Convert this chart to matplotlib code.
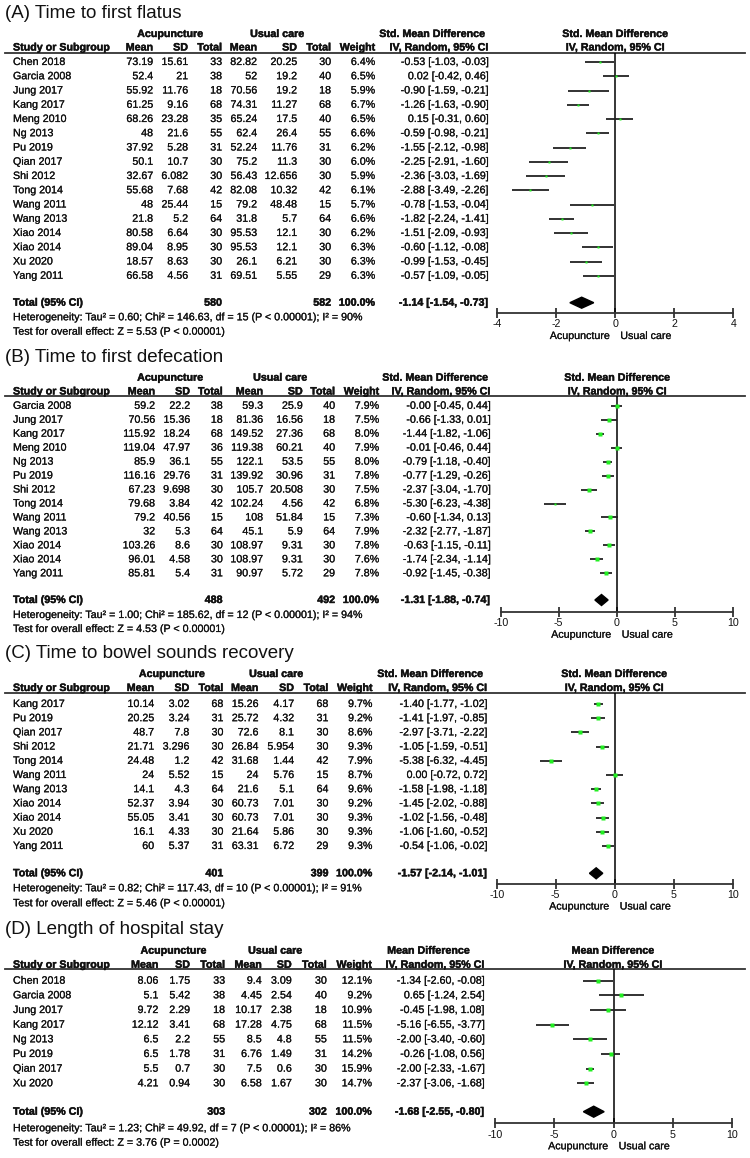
import numpy as np
import matplotlib.pyplot as plt
import matplotlib.patheffects as pe

plt.rcParams['font.family'] = ['Liberation Sans', 'DejaVu Sans']

# ---- (A) Time to first flatus ----
a_study = ['Chen 2018', 'Garcia 2008', 'Jung 2017', 'Kang 2017', 'Meng 2010', 'Ng 2013',
           'Pu 2019', 'Qian 2017', 'Shi 2012', 'Tong 2014', 'Wang 2011', 'Wang 2013',
           'Xiao 2014', 'Xiao 2014', 'Xu 2020', 'Yang 2011']
a_acu_mean = [73.19, 52.4, 55.92, 61.25, 68.26, 48, 37.92, 50.1, 32.67, 55.68, 48, 21.8, 80.58, 89.04, 18.57, 66.58]
a_acu_sd = [15.61, 21, 11.76, 9.16, 23.28, 21.6, 5.28, 10.7, 6.082, 7.68, 25.44, 5.2, 6.64, 8.95, 8.63, 4.56]
a_acu_n = [33, 38, 18, 68, 35, 55, 31, 30, 30, 42, 15, 64, 30, 30, 30, 31]
a_uc_mean = [82.82, 52, 70.56, 74.31, 65.24, 62.4, 52.24, 75.2, 56.43, 82.08, 79.2, 31.8, 95.53, 95.53, 26.1, 69.51]
a_uc_sd = [20.25, 19.2, 19.2, 11.27, 17.5, 26.4, 11.76, 11.3, 12.656, 10.32, 48.48, 5.7, 12.1, 12.1, 6.21, 5.55]
a_uc_n = [30, 40, 18, 68, 40, 55, 31, 30, 30, 42, 15, 64, 30, 30, 30, 29]
a_weight = [6.4, 6.5, 5.9, 6.7, 6.5, 6.6, 6.2, 6.0, 5.9, 6.1, 5.7, 6.6, 6.2, 6.3, 6.3, 6.3]
a_est = [-0.53, 0.02, -0.90, -1.26, 0.15, -0.59, -1.55, -2.25, -2.36, -2.88, -0.78, -1.82, -1.51, -0.60, -0.99, -0.57]
a_lo = [-1.03, -0.42, -1.59, -1.63, -0.31, -0.98, -2.12, -2.91, -3.03, -3.49, -1.53, -2.24, -2.09, -1.12, -1.53, -1.09]
a_hi = [-0.03, 0.46, -0.21, -0.90, 0.60, -0.21, -0.98, -1.60, -1.69, -2.26, -0.04, -1.41, -0.93, -0.08, -0.45, -0.05]
a_total = (580, 582, -1.14, -1.54, -0.73)
a_het = 'Heterogeneity: Tau² = 0.60; Chi² = 146.63, df = 15 (P < 0.00001); I² = 90%'
a_test = 'Test for overall effect: Z = 5.53 (P < 0.00001)'

# ---- (B) Time to first defecation ----
b_study = ['Garcia 2008', 'Jung 2017', 'Kang 2017', 'Meng 2010', 'Ng 2013', 'Pu 2019', 'Shi 2012',
           'Tong 2014', 'Wang 2011', 'Wang 2013', 'Xiao 2014', 'Xiao 2014', 'Yang 2011']
b_acu_mean = [59.2, 70.56, 115.92, 119.04, 85.9, 116.16, 67.23, 79.68, 79.2, 32, 103.26, 96.01, 85.81]
b_acu_sd = [22.2, 15.36, 18.24, 47.97, 36.1, 29.76, 9.698, 3.84, 40.56, 5.3, 8.6, 4.58, 5.4]
b_acu_n = [38, 18, 68, 36, 55, 31, 30, 42, 15, 64, 30, 30, 31]
b_uc_mean = [59.3, 81.36, 149.52, 119.38, 122.1, 139.92, 105.7, 102.24, 108, 45.1, 108.97, 108.97, 90.97]
b_uc_sd = [25.9, 16.56, 27.36, 60.21, 53.5, 30.96, 20.508, 4.56, 51.84, 5.9, 9.31, 9.31, 5.72]
b_uc_n = [40, 18, 68, 40, 55, 31, 30, 42, 15, 64, 30, 30, 29]
b_weight = [7.9, 7.5, 8.0, 7.9, 8.0, 7.8, 7.5, 6.8, 7.3, 7.9, 7.8, 7.6, 7.8]
b_est = [-0.0, -0.66, -1.44, -0.01, -0.79, -0.77, -2.37, -5.30, -0.60, -2.32, -0.63, -1.74, -0.92]
b_lo = [-0.45, -1.33, -1.82, -0.46, -1.18, -1.29, -3.04, -6.23, -1.34, -2.77, -1.15, -2.34, -1.45]
b_hi = [0.44, 0.01, -1.06, 0.44, -0.40, -0.26, -1.70, -4.38, 0.13, -1.87, -0.11, -1.14, -0.38]
b_total = (488, 492, -1.31, -1.88, -0.74)
b_het = 'Heterogeneity: Tau² = 1.00; Chi² = 185.62, df = 12 (P < 0.00001); I² = 94%'
b_test = 'Test for overall effect: Z = 4.53 (P < 0.00001)'

# ---- (C) Time to bowel sounds recovery ----
c_study = ['Kang 2017', 'Pu 2019', 'Qian 2017', 'Shi 2012', 'Tong 2014', 'Wang 2011', 'Wang 2013',
           'Xiao 2014', 'Xiao 2014', 'Xu 2020', 'Yang 2011']
c_acu_mean = [10.14, 20.25, 48.7, 21.71, 24.48, 24, 14.1, 52.37, 55.05, 16.1, 60]
c_acu_sd = [3.02, 3.24, 7.8, 3.296, 1.2, 5.52, 4.3, 3.94, 3.41, 4.33, 5.37]
c_acu_n = [68, 31, 30, 30, 42, 15, 64, 30, 30, 30, 31]
c_uc_mean = [15.26, 25.72, 72.6, 26.84, 31.68, 24, 21.6, 60.73, 60.73, 21.64, 63.31]
c_uc_sd = [4.17, 4.32, 8.1, 5.954, 1.44, 5.76, 5.1, 7.01, 7.01, 5.86, 6.72]
c_uc_n = [68, 31, 30, 30, 42, 15, 64, 30, 30, 30, 29]
c_weight = [9.7, 9.2, 8.6, 9.3, 7.9, 8.7, 9.6, 9.2, 9.3, 9.3, 9.3]
c_est = [-1.40, -1.41, -2.97, -1.05, -5.38, 0.00, -1.58, -1.45, -1.02, -1.06, -0.54]
c_lo = [-1.77, -1.97, -3.71, -1.59, -6.32, -0.72, -1.98, -2.02, -1.56, -1.60, -1.06]
c_hi = [-1.02, -0.85, -2.22, -0.51, -4.45, 0.72, -1.18, -0.88, -0.48, -0.52, -0.02]
c_total = (401, 399, -1.57, -2.14, -1.01)
c_het = 'Heterogeneity: Tau² = 0.82; Chi² = 117.43, df = 10 (P < 0.00001); I² = 91%'
c_test = 'Test for overall effect: Z = 5.46 (P < 0.00001)'

# ---- (D) Length of hospital stay ----
d_study = ['Chen 2018', 'Garcia 2008', 'Jung 2017', 'Kang 2017', 'Ng 2013', 'Pu 2019', 'Qian 2017', 'Xu 2020']
d_acu_mean = [8.06, 5.1, 9.72, 12.12, 6.5, 6.5, 5.5, 4.21]
d_acu_sd = [1.75, 5.42, 2.29, 3.41, 2.2, 1.78, 0.7, 0.94]
d_acu_n = [33, 38, 18, 68, 55, 31, 30, 30]
d_uc_mean = [9.4, 4.45, 10.17, 17.28, 8.5, 6.76, 7.5, 6.58]
d_uc_sd = [3.09, 2.54, 2.38, 4.75, 4.8, 1.49, 0.6, 1.67]
d_uc_n = [30, 40, 18, 68, 55, 31, 30, 30]
d_weight = [12.1, 9.2, 10.9, 11.5, 11.5, 14.2, 15.9, 14.7]
d_est = [-1.34, 0.65, -0.45, -5.16, -2.00, -0.26, -2.00, -2.37]
d_lo = [-2.60, -1.24, -1.98, -6.55, -3.40, -1.08, -2.33, -3.06]
d_hi = [-0.08, 2.54, 1.08, -3.77, -0.60, 0.56, -1.67, -1.68]
d_total = (303, 302, -1.68, -2.55, -0.80)
d_het = 'Heterogeneity: Tau² = 1.23; Chi² = 49.92, df = 7 (P < 0.00001); I² = 86%'
d_test = 'Test for overall effect: Z = 3.76 (P = 0.0002)'

W, H = 750, 1158
FS = 7.7
GREEN = '#22ee22'
INK = '#111111'

fig = plt.figure(figsize=(W / 100, H / 100), dpi=100)
bg = fig.add_axes([0, 0, 1, 1])
bg.set_xlim(0, W)
bg.set_ylim(H, 0)
bg.axis('off')


def txt(x, y, s, **kw):
    kw.setdefault('fontsize', FS)
    kw.setdefault('color', INK)
    sw = 0.3 if kw.get('fontweight') == 'bold' else 0.15
    kw.setdefault('path_effects', [pe.withStroke(linewidth=sw, foreground=INK)])
    bg.text(x, y, s, va='center', **kw)


def panel(title, measure, study, am, asd, an, um, usd, un, wt, est, lo, hi, total, het, test, lay):
    L = lay
    txt(5, L['title'], title, fontsize=13.5, path_effects=[])
    # group headers
    g = L['grp']
    txt(g[0], L['gy'], 'Acupuncture', ha='center', fontweight='bold')
    txt(g[1], L['gy'], 'Usual care', ha='center', fontweight='bold')
    txt(g[2], L['gy'], measure, ha='center', fontweight='bold')
    txt(L['fc'], L['gy'], measure, ha='center', fontweight='bold')
    # column headers
    c = L['cols']
    txt(13, L['hy'], 'Study or Subgroup', fontweight='bold')
    for x, s in zip(c, ['Mean', 'SD', 'Total', 'Mean', 'SD', 'Total', 'Weight', 'IV, Random, 95% CI']):
        txt(x, L['hy'], s, ha='right', fontweight='bold')
    txt(L['fc'], L['hy'], 'IV, Random, 95% CI', ha='center', fontweight='bold')
    bg.plot([5, 745], [L['line'], L['line']], color='#333333', lw=1.3)

    rows = L['row0'] + L['step'] * np.arange(len(study))
    for i, y in enumerate(rows):
        txt(13, y, study[i])
        vals = [f'{am[i]:g}', f'{asd[i]:g}', f'{an[i]}', f'{um[i]:g}', f'{usd[i]:g}', f'{un[i]}',
                f'{wt[i]:.1f}%', f'{est[i]:.2f} [{lo[i]:.2f}, {hi[i]:.2f}]']
        for x, s in zip(c, vals):
            txt(x, y, s, ha='right')

    ty = L['total']
    txt(13, ty, 'Total (95% CI)', fontweight='bold')
    txt(c[2], ty, f'{total[0]}', ha='right', fontweight='bold')
    txt(c[5], ty, f'{total[1]}', ha='right', fontweight='bold')
    txt(c[6], ty, '100.0%', ha='right', fontweight='bold')
    txt(c[7], ty, f'{total[2]:.2f} [{total[3]:.2f}, {total[4]:.2f}]', ha='right', fontweight='bold')
    txt(13, L['het'], het)
    txt(13, L['test'], test)

    # forest plot axes, y in figure pixels
    lim = L['lim']
    x0, x1 = L['xr']
    top, bot = L['line'], L['axis']
    ax = fig.add_axes([x0 / W, 1 - bot / H, (x1 - x0) / W, (bot - top) / H])
    ax.set_xlim(-lim, lim)
    ax.set_ylim(bot, top)
    ax.patch.set_alpha(0)
    for s in ['top', 'left', 'right']:
        ax.spines[s].set_visible(False)
    ax.spines['bottom'].set_linewidth(1.3)
    ax.spines['bottom'].set_color('#333333')
    ax.set_yticks([])
    ax.set_xticks(L['ticks'])
    ax.set_xticklabels([f'{t:g}' for t in L['ticks']], color=INK)
    ax.tick_params(axis='x', direction='inout', length=7, width=1.3, color='#333333',
                   labelsize=FS, pad=1)
    ax.axvline(0, color='black', lw=1.1)
    ax.hlines(rows, lo, hi, color='#222222', lw=1.3)
    for i, y in enumerate(rows):
        ax.plot(est[i], y, 's', color=GREEN, ms=0.8 * np.sqrt(wt[i]), mec='none')
    h = 5.5
    ax.fill([total[3], total[2], total[4], total[2]], [ty, ty - h, ty, ty + h], color='black')
    xz = x0 + (x1 - x0) / 2
    txt(xz - 5, bot + 23, 'Acupuncture', ha='right')
    txt(xz + 5, bot + 23, 'Usual care', ha='left')


lay_a = dict(title=14, gy=34, hy=47.5, line=52.5, row0=62, step=14.25, total=302.7, het=317.3,
             test=331.7, axis=313, xr=(497.3, 733.3), lim=4, ticks=[-4, -2, 0, 2, 4],
             cols=[153, 188, 222, 257, 297, 331, 375, 488], grp=[170, 277, 432], fc=615)
lay_b = dict(title=358, gy=377.7, hy=391.5, line=396, row0=405.8, step=13.96, total=600, het=615,
             test=629, axis=611.7, xr=(500.7, 732.7), lim=10, ticks=[-10, -5, 0, 5, 10],
             cols=[155, 190, 222.7, 263, 302.7, 335, 379, 490], grp=[170, 280, 435], fc=617)
lay_c = dict(title=653.3, gy=674, hy=688, line=692.7, row0=704, step=14.2, total=873.3, het=888.3,
             test=903.3, axis=883.5, xr=(496.7, 732.7), lim=10, ticks=[-10, -5, 0, 5, 10],
             cols=[154, 189.3, 223.3, 258.3, 294, 328.3, 372.3, 486.7], grp=[171.7, 276, 430], fc=614)
lay_d = dict(title=930, gy=950.7, hy=964.8, line=969.3, row0=980.7, step=14.66, total=1111.7, het=1128.3,
             test=1142.7, axis=1123.3, xr=(495, 732.3), lim=10, ticks=[-10, -5, 0, 5, 10],
             cols=[158.3, 190, 225, 261.7, 291.7, 326.7, 371.7, 484], grp=[173.3, 275, 428.3], fc=612.7)

panel('(A) Time to first flatus', 'Std. Mean Difference', a_study, a_acu_mean, a_acu_sd, a_acu_n,
      a_uc_mean, a_uc_sd, a_uc_n, a_weight, a_est, a_lo, a_hi, a_total, a_het, a_test, lay_a)
panel('(B) Time to first defecation', 'Std. Mean Difference', b_study, b_acu_mean, b_acu_sd, b_acu_n,
      b_uc_mean, b_uc_sd, b_uc_n, b_weight, b_est, b_lo, b_hi, b_total, b_het, b_test, lay_b)
panel('(C) Time to bowel sounds recovery', 'Std. Mean Difference', c_study, c_acu_mean, c_acu_sd, c_acu_n,
      c_uc_mean, c_uc_sd, c_uc_n, c_weight, c_est, c_lo, c_hi, c_total, c_het, c_test, lay_c)
panel('(D) Length of hospital stay', 'Mean Difference', d_study, d_acu_mean, d_acu_sd, d_acu_n,
      d_uc_mean, d_uc_sd, d_uc_n, d_weight, d_est, d_lo, d_hi, d_total, d_het, d_test, lay_d)

fig.savefig('out.png', dpi=100)
